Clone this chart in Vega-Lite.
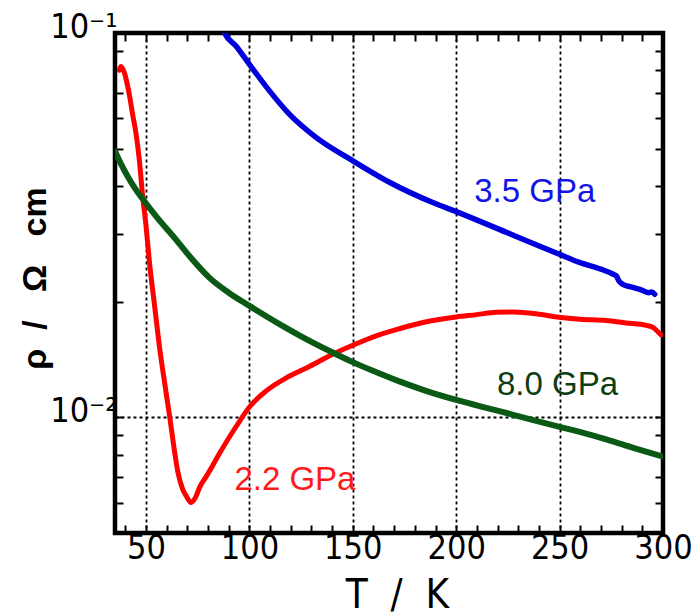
{
  "$schema": "https://vega.github.io/schema/vega-lite/v6.json",
  "width": 548,
  "height": 500,
  "autosize": {"type": "none"},
  "padding": {"left": 115, "top": 33, "right": 35, "bottom": 82},
  "background": "white",
  "config": {
    "view": {"stroke": "black", "strokeWidth": 4.5},
    "axis": {
      "labelFont": "Liberation Sans Narrow, DejaVu Sans Condensed, Liberation Sans",
      "labelFontSize": 34,
      "labelColor": "black",
      "tickColor": "black",
      "tickWidth": 2,
      "domain": false,
      "labelFlush": false,
      "labelOverlap": false
    }
  },
  "datasets": {
    "curves": [
      {"s": "3.5 GPa", "T": 87.3, "rho": 0.102},
      {"s": "3.5 GPa", "T": 88, "rho": 0.1},
      {"s": "3.5 GPa", "T": 93.5, "rho": 0.0925},
      {"s": "3.5 GPa", "T": 100, "rho": 0.0829},
      {"s": "3.5 GPa", "T": 109.7, "rho": 0.0707},
      {"s": "3.5 GPa", "T": 119.3, "rho": 0.0615},
      {"s": "3.5 GPa", "T": 132.2, "rho": 0.0535},
      {"s": "3.5 GPa", "T": 150, "rho": 0.0465},
      {"s": "3.5 GPa", "T": 167.7, "rho": 0.0409},
      {"s": "3.5 GPa", "T": 189.3, "rho": 0.0361},
      {"s": "3.5 GPa", "T": 200, "rho": 0.0343},
      {"s": "3.5 GPa", "T": 224.2, "rho": 0.0303},
      {"s": "3.5 GPa", "T": 249.6, "rho": 0.0266},
      {"s": "3.5 GPa", "T": 259.6, "rho": 0.0253},
      {"s": "3.5 GPa", "T": 270, "rho": 0.0243},
      {"s": "3.5 GPa", "T": 275.7, "rho": 0.0236},
      {"s": "3.5 GPa", "T": 277.5, "rho": 0.0233},
      {"s": "3.5 GPa", "T": 278.8, "rho": 0.0226},
      {"s": "3.5 GPa", "T": 280.5, "rho": 0.0222},
      {"s": "3.5 GPa", "T": 285, "rho": 0.0218},
      {"s": "3.5 GPa", "T": 290, "rho": 0.0214},
      {"s": "3.5 GPa", "T": 293, "rho": 0.0211},
      {"s": "3.5 GPa", "T": 294.5, "rho": 0.0212},
      {"s": "3.5 GPa", "T": 296, "rho": 0.0209},

      {"s": "2.2 GPa", "T": 37.1, "rho": 0.0800},
      {"s": "2.2 GPa", "T": 37.8, "rho": 0.0818},
      {"s": "2.2 GPa", "T": 39.5, "rho": 0.0789},
      {"s": "2.2 GPa", "T": 41.9, "rho": 0.0693},
      {"s": "2.2 GPa", "T": 43.5, "rho": 0.0615},
      {"s": "2.2 GPa", "T": 45.2, "rho": 0.0546},
      {"s": "2.2 GPa", "T": 46.8, "rho": 0.0465},
      {"s": "2.2 GPa", "T": 48.4, "rho": 0.0375},
      {"s": "2.2 GPa", "T": 50.0, "rho": 0.0315},
      {"s": "2.2 GPa", "T": 51.6, "rho": 0.0255},
      {"s": "2.2 GPa", "T": 54.0, "rho": 0.0198},
      {"s": "2.2 GPa", "T": 56.4, "rho": 0.0154},
      {"s": "2.2 GPa", "T": 59.7, "rho": 0.0116},
      {"s": "2.2 GPa", "T": 61.5, "rho": 0.0100},
      {"s": "2.2 GPa", "T": 63.3, "rho": 0.0085},
      {"s": "2.2 GPa", "T": 65.3, "rho": 0.00725},
      {"s": "2.2 GPa", "T": 67.7, "rho": 0.0065},
      {"s": "2.2 GPa", "T": 69.6, "rho": 0.00622},
      {"s": "2.2 GPa", "T": 71.8, "rho": 0.0060},
      {"s": "2.2 GPa", "T": 74.0, "rho": 0.0062},
      {"s": "2.2 GPa", "T": 76.0, "rho": 0.00659},
      {"s": "2.2 GPa", "T": 79.0, "rho": 0.0070},
      {"s": "2.2 GPa", "T": 82.0, "rho": 0.00745},
      {"s": "2.2 GPa", "T": 85.5, "rho": 0.00805},
      {"s": "2.2 GPa", "T": 93.5, "rho": 0.00945},
      {"s": "2.2 GPa", "T": 100, "rho": 0.01064},
      {"s": "2.2 GPa", "T": 108, "rho": 0.01170},
      {"s": "2.2 GPa", "T": 117.7, "rho": 0.01265},
      {"s": "2.2 GPa", "T": 124.2, "rho": 0.01318},
      {"s": "2.2 GPa", "T": 129, "rho": 0.01356},
      {"s": "2.2 GPa", "T": 140.3, "rho": 0.01460},
      {"s": "2.2 GPa", "T": 149.7, "rho": 0.01538},
      {"s": "2.2 GPa", "T": 160, "rho": 0.0162},
      {"s": "2.2 GPa", "T": 172.5, "rho": 0.0170},
      {"s": "2.2 GPa", "T": 185, "rho": 0.0177},
      {"s": "2.2 GPa", "T": 200, "rho": 0.01825},
      {"s": "2.2 GPa", "T": 210, "rho": 0.0185},
      {"s": "2.2 GPa", "T": 219.3, "rho": 0.01877},
      {"s": "2.2 GPa", "T": 228, "rho": 0.0188},
      {"s": "2.2 GPa", "T": 240, "rho": 0.01855},
      {"s": "2.2 GPa", "T": 249.6, "rho": 0.01822},
      {"s": "2.2 GPa", "T": 260, "rho": 0.0180},
      {"s": "2.2 GPa", "T": 272.5, "rho": 0.01786},
      {"s": "2.2 GPa", "T": 282, "rho": 0.0176},
      {"s": "2.2 GPa", "T": 291.9, "rho": 0.01734},
      {"s": "2.2 GPa", "T": 295.5, "rho": 0.0171},
      {"s": "2.2 GPa", "T": 297.5, "rho": 0.0167},
      {"s": "2.2 GPa", "T": 299, "rho": 0.0164},

      {"s": "8.0 GPa", "T": 35, "rho": 0.0492},
      {"s": "8.0 GPa", "T": 38, "rho": 0.0455},
      {"s": "8.0 GPa", "T": 41.5, "rho": 0.0420},
      {"s": "8.0 GPa", "T": 45, "rho": 0.0392},
      {"s": "8.0 GPa", "T": 48.4, "rho": 0.0370},
      {"s": "8.0 GPa", "T": 55, "rho": 0.0333},
      {"s": "8.0 GPa", "T": 64.5, "rho": 0.0290},
      {"s": "8.0 GPa", "T": 72, "rho": 0.0259},
      {"s": "8.0 GPa", "T": 80.6, "rho": 0.0231},
      {"s": "8.0 GPa", "T": 90, "rho": 0.0211},
      {"s": "8.0 GPa", "T": 100, "rho": 0.0195},
      {"s": "8.0 GPa", "T": 116, "rho": 0.0173},
      {"s": "8.0 GPa", "T": 125, "rho": 0.01625},
      {"s": "8.0 GPa", "T": 140, "rho": 0.01477},
      {"s": "8.0 GPa", "T": 150, "rho": 0.01392},
      {"s": "8.0 GPa", "T": 160, "rho": 0.01319},
      {"s": "8.0 GPa", "T": 172.5, "rho": 0.0124},
      {"s": "8.0 GPa", "T": 185, "rho": 0.01174},
      {"s": "8.0 GPa", "T": 200, "rho": 0.0111},
      {"s": "8.0 GPa", "T": 218, "rho": 0.01047},
      {"s": "8.0 GPa", "T": 235, "rho": 0.00991},
      {"s": "8.0 GPa", "T": 250, "rho": 0.00944},
      {"s": "8.0 GPa", "T": 261, "rho": 0.00912},
      {"s": "8.0 GPa", "T": 272.5, "rho": 0.00876},
      {"s": "8.0 GPa", "T": 286, "rho": 0.00832},
      {"s": "8.0 GPa", "T": 300, "rho": 0.0079}
    ],
    "labels": [
      {"label": "3.5 GPa", "T": 238, "rho": 0.0386},
      {"label": "8.0 GPa", "T": 249, "rho": 0.0121},
      {"label": "2.2 GPa", "T": 122, "rho": 0.00686}
    ]
  },
  "layer": [
    {
      "data": {"name": "curves"},
      "mark": {"type": "line", "clip": true, "strokeCap": "round", "strokeJoin": "round", "interpolate": "monotone"},
      "encoding": {
        "x": {
          "field": "T", "type": "quantitative",
          "scale": {"domain": [35, 300], "nice": false, "zero": false},
          "axis": {
            "orient": "bottom",
            "values": [40, 50, 60, 70, 80, 90, 100, 110, 120, 130, 140, 150, 160, 170, 180, 190, 200, 210, 220, 230, 240, 250, 260, 270, 280, 290, 300],
            "format": "d",
            "labelExpr": "datum.value % 50 === 0 ? datum.label : ''",
            "tickSize": -8,
            "labelPadding": 6,
            "grid": true,
            "gridColor": "black",
            "gridDash": [3, 3],
            "gridWidth": 1.8,
            "gridOpacity": {"condition": {"test": "datum.value % 50 === 0 && datum.value < 300", "value": 1}, "value": 0},
            "title": "T\u00a0 /\u00a0 K",
            "titleFont": "Liberation Sans Narrow, DejaVu Sans Condensed, Liberation Sans",
            "titleFontSize": 40,
            "titleFontWeight": "normal",
            "titleColor": "black",
            "titleX": 282,
            "titleY": 74,
            "titleBaseline": "alphabetic",
            "titleAlign": "center"
          }
        },
        "y": {
          "field": "rho", "type": "quantitative",
          "scale": {"type": "log", "domain": [0.005, 0.1], "nice": false},
          "axis": {
            "orient": "left",
            "values": [0.006, 0.007, 0.008, 0.009, 0.01, 0.02, 0.03, 0.04, 0.05, 0.06, 0.07, 0.08, 0.09, 0.1],
            "labelExpr": "datum.value == 0.1 ? '10⁻¹' : (datum.value == 0.01 ? '10⁻²' : '')",
            "tickSize": -8,
            "labelPadding": 6,
            "labelBaseline": "alphabetic",
            "labelOffset": 4,
            "grid": true,
            "gridColor": "black",
            "gridDash": [3, 3],
            "gridWidth": 1.8,
            "gridOpacity": {"condition": {"test": "datum.value == 0.01", "value": 1}, "value": 0},
            "title": "ρ\u00a0 /\u00a0\u00a0 Ω\u00a0\u00a0 cm",
            "titleFont": "Liberation Sans",
            "titleFontSize": 34,
            "titleFontWeight": "bold",
            "titleColor": "black",
            "titleX": -70,
            "titleY": 245,
            "titleBaseline": "alphabetic",
            "titleAlign": "center",
            "titleAngle": -90
          }
        },
        "color": {
          "field": "s", "type": "nominal",
          "scale": {"domain": ["2.2 GPa", "3.5 GPa", "8.0 GPa"], "range": ["#ff0000", "#0000dd", "#0a5a16"]},
          "legend": null
        },
        "strokeWidth": {
          "field": "s", "type": "nominal",
          "scale": {"domain": ["2.2 GPa", "3.5 GPa", "8.0 GPa"], "range": [5, 6, 4]},
          "legend": null
        }
      }
    },
    {
      "data": {"name": "labels"},
      "mark": {"type": "text", "font": "Liberation Sans", "fontSize": 33, "align": "center", "baseline": "middle"},
      "encoding": {
        "x": {
          "field": "T", "type": "quantitative",
          "scale": {"domain": [35, 300], "nice": false, "zero": false},
          "axis": {
            "orient": "top",
            "values": [40, 50, 60, 70, 80, 90, 100, 110, 120, 130, 140, 150, 160, 170, 180, 190, 200, 210, 220, 230, 240, 250, 260, 270, 280, 290],
            "labels": false,
            "tickSize": -8,
            "grid": false,
            "title": null
          }
        },
        "y": {
          "field": "rho", "type": "quantitative",
          "scale": {"type": "log", "domain": [0.005, 0.1], "nice": false},
          "axis": {
            "orient": "right",
            "values": [0.006, 0.007, 0.008, 0.009, 0.01, 0.02, 0.03, 0.04, 0.05, 0.06, 0.07, 0.08, 0.09],
            "labels": false,
            "tickSize": -8,
            "grid": false,
            "title": null
          }
        },
        "text": {"field": "label"},
        "color": {
          "field": "label", "type": "nominal",
          "scale": {"domain": ["2.2 GPa", "3.5 GPa", "8.0 GPa"], "range": ["#ff1a1a", "#1414e6", "#0d3d10"]},
          "legend": null
        }
      }
    }
  ],
  "resolve": {"scale": {"x": "independent", "y": "independent", "color": "independent"}}
}
